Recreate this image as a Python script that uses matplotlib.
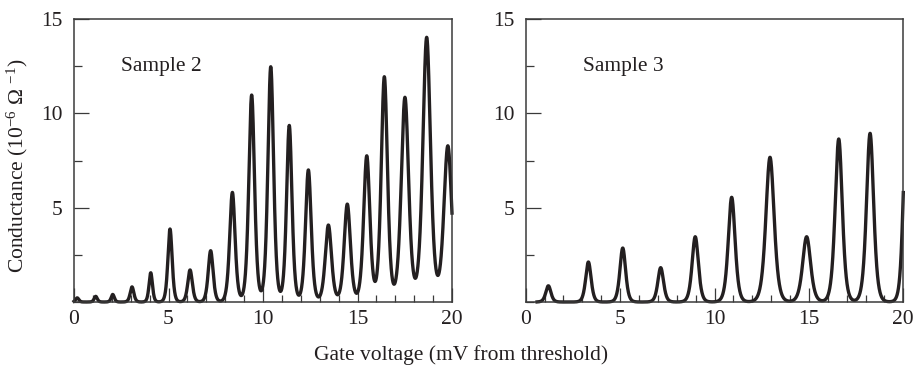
import numpy as np
import matplotlib
matplotlib.use("Agg")
import matplotlib.pyplot as plt
from matplotlib.ticker import MultipleLocator, FixedLocator

plt.rcParams['font.family'] = ['Liberation Serif', 'DejaVu Serif']
plt.rcParams['mathtext.fontset'] = 'custom'
plt.rcParams['mathtext.rm'] = 'Liberation Serif'
plt.rcParams['mathtext.it'] = 'Liberation Serif:italic'
plt.rcParams['mathtext.bf'] = 'Liberation Serif:bold'

# Sample 2: Coulomb-blockade peaks (centre in mV, peak conductance, thermal width in mV)
s2_centers = [0.17, 1.15, 2.05, 3.07, 4.06, 5.08, 6.14, 7.23, 8.38, 9.40,
              10.41, 11.39, 12.40, 13.46, 14.46, 15.49, 16.42, 17.51, 18.66, 19.78]
s2_heights = [0.22, 0.30, 0.40, 0.80, 1.55, 3.87, 1.70, 2.72, 5.81, 10.97,
              12.47, 9.36, 7.00, 4.08, 5.19, 7.75, 11.94, 10.85, 14.03, 8.28]
s2_widths = [0.11, 0.11, 0.11, 0.13, 0.12, 0.15, 0.16, 0.17, 0.19, 0.20,
             0.20, 0.19, 0.20, 0.22, 0.22, 0.22, 0.22, 0.26, 0.27, 0.28]
s2_start = 0.0

# Sample 3
s3_centers = [1.20, 3.32, 5.14, 7.15, 8.98, 10.91, 12.94, 14.88, 16.58, 18.24, 20.15]
s3_heights = [0.86, 2.12, 2.86, 1.82, 3.46, 5.55, 7.67, 3.46, 8.64, 8.94, 9.30]
s3_widths = [0.18, 0.19, 0.20, 0.20, 0.22, 0.24, 0.29, 0.28, 0.25, 0.25, 0.21]
s3_start = 0.6

x_major = [0, 5, 10, 15, 20]
y_major = [5, 10, 15]
sample_names = ["Sample 2", "Sample 3"]

INK = '#231f20'
FRAME = '#3a3a3a'
FS = 15.5


def peak_shape(x, c, w):
    return 1.0 / np.cosh((x - c) / w) ** 2


def conductance(x, centers, heights, widths):
    c = np.asarray(centers, float)
    h = np.asarray(heights, float)
    w = np.asarray(widths, float)
    # amplitudes chosen so the summed trace passes through each peak value
    K = peak_shape(c[:, None], c[None, :], w[None, :])
    amp = np.linalg.solve(K, h)
    return (amp[None, :] * peak_shape(x[:, None], c[None, :], w[None, :])).sum(axis=1)


fig = plt.figure(figsize=(9.22, 3.67), dpi=100)
bottom = 1 - 302 / 367
height = (302 - 19) / 367
ax2 = fig.add_axes([74 / 922, bottom, 378 / 922, height])
ax3 = fig.add_axes([525.7 / 922, bottom, 377.6 / 922, height])

datasets = [
    (ax2, s2_centers, s2_heights, s2_widths, s2_start, 2.47),
    (ax3, s3_centers, s3_heights, s3_widths, s3_start, 3.02),
]

for (ax, cen, hts, wid, x0, tx), name in zip(datasets, sample_names):
    x = np.linspace(x0, 20, 4000)
    y = conductance(x, cen, hts, wid)
    ax.plot(x, y, color=INK, lw=2.4, clip_on=False, solid_joinstyle='round')
    ax.set_xlim(0, 20)
    ax.set_ylim(0, 15)
    ax.xaxis.set_major_locator(FixedLocator(x_major))
    ax.xaxis.set_minor_locator(MultipleLocator(1))
    ax.yaxis.set_major_locator(FixedLocator(y_major))
    ax.yaxis.set_minor_locator(MultipleLocator(2.5))
    ax.tick_params(axis='x', which='both', direction='in', bottom=True, top=False,
                   color=FRAME, width=0.9, labelsize=FS, labelcolor=INK, pad=6)
    ax.tick_params(axis='y', which='both', direction='in', left=True, right=False,
                   color=FRAME, width=0.9, labelsize=FS, labelcolor=INK, pad=8)
    ax.tick_params(axis='x', which='major', length=10)
    ax.tick_params(axis='x', which='minor', length=5)
    ax.tick_params(axis='y', which='major', length=11)
    ax.tick_params(axis='y', which='minor', length=5.5)
    for sp in ax.spines.values():
        sp.set_color(FRAME)
        sp.set_linewidth(1.1)
    ax.text(tx, 12.5, name, fontsize=FS, color=INK, ha='left', va='center')

fig.text(0.5, 1 - 355 / 367, "Gate voltage (mV from threshold)", fontsize=FS,
         color=INK, ha='center', va='center')
fig.text(17 / 922, 1 - 166 / 367, "Conductance (10$^{-6}$ Ω $^{-1}$)", fontsize=FS,
         color=INK, ha='center', va='center', rotation=90)

fig.savefig("out.png", dpi=100)
